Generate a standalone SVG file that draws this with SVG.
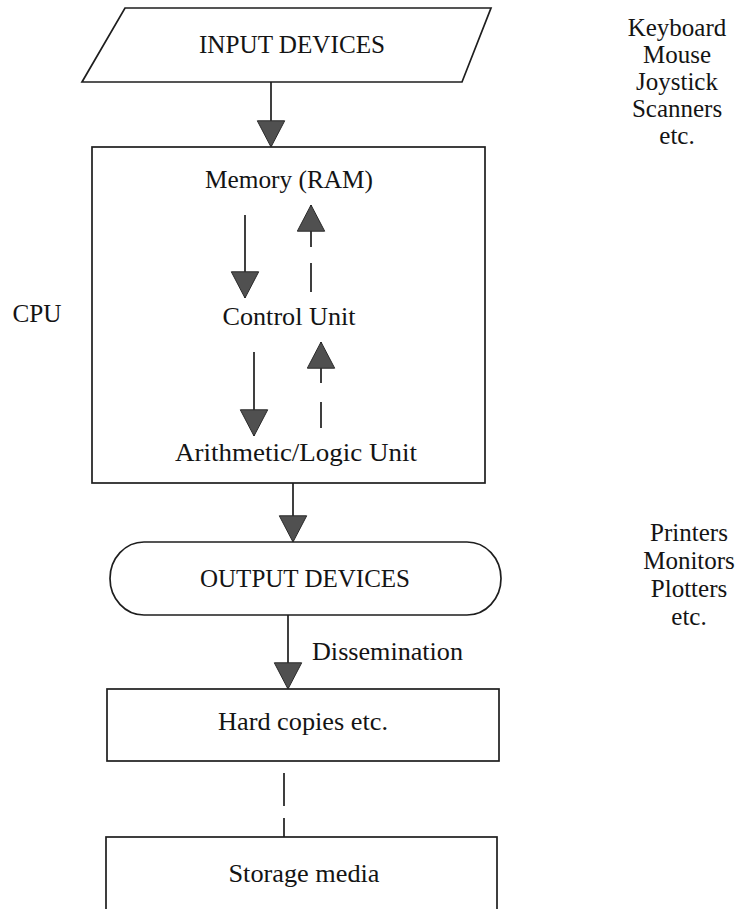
<svg xmlns="http://www.w3.org/2000/svg" width="739" height="909" viewBox="0 0 739 909">
  <defs>
    <style>
      .shape { fill: #ffffff; stroke: #1e1e1e; stroke-width: 1.7; }
      .frame { fill: none; stroke: #1e1e1e; stroke-width: 1.7; }
      .wire { fill: none; stroke: #1e1e1e; stroke-width: 1.7; }
      .lbl { font-family: "Liberation Serif", "Times New Roman", serif; font-size: 25px; fill: #141414; }
      .mid { text-anchor: middle; }
    </style>
    <!-- filled triangular arrowhead, tip at the line end -->
    <marker id="head" markerUnits="userSpaceOnUse" markerWidth="30" markerHeight="31" refX="27" refY="14.5" orient="auto">
      <path d="M0.8,0.8 L27,14.5 L0.8,28.2 Z" fill="#505050" stroke="#2a2a2a" stroke-width="1"/>
    </marker>
  </defs>

  <rect width="739" height="909" fill="#ffffff"/>

  <g id="input-devices">
    <polygon class="shape" points="125,8 491,8 462,82 82,82"/>
    <text class="lbl mid" x="292" y="53" textLength="186" lengthAdjust="spacingAndGlyphs">INPUT DEVICES</text>
  </g>

  <g id="input-examples">
    <text class="lbl mid" x="677" y="36">Keyboard</text>
    <text class="lbl mid" x="677" y="63">Mouse</text>
    <text class="lbl mid" x="677" y="90">Joystick</text>
    <text class="lbl mid" x="677" y="117">Scanners</text>
    <text class="lbl mid" x="677" y="144">etc.</text>
  </g>

  <g id="cpu">
    <rect class="frame" x="92" y="147" width="393" height="336"/>
    <text class="lbl mid" x="37" y="322" textLength="49" lengthAdjust="spacingAndGlyphs">CPU</text>
    <g id="memory">
      <text class="lbl mid" x="289" y="188" textLength="168" lengthAdjust="spacingAndGlyphs">Memory (RAM)</text>
    </g>
    <g id="control-unit">
      <text class="lbl mid" x="289" y="325" textLength="133" lengthAdjust="spacingAndGlyphs">Control Unit</text>
    </g>
    <g id="alu">
      <text class="lbl mid" x="296" y="461" textLength="242" lengthAdjust="spacingAndGlyphs">Arithmetic/Logic Unit</text>
    </g>
  </g>

  <g id="output-devices">
    <rect class="shape" x="110" y="542" width="391" height="73" rx="34" ry="36.5"/>
    <text class="lbl mid" x="305" y="587" textLength="210" lengthAdjust="spacingAndGlyphs">OUTPUT DEVICES</text>
  </g>

  <g id="output-examples">
    <text class="lbl mid" x="689" y="541">Printers</text>
    <text class="lbl mid" x="689" y="569">Monitors</text>
    <text class="lbl mid" x="689" y="597">Plotters</text>
    <text class="lbl mid" x="689" y="625">etc.</text>
  </g>

  <g id="hard-copies">
    <rect class="shape" x="107" y="689" width="392" height="72"/>
    <text class="lbl mid" x="303" y="730" textLength="170" lengthAdjust="spacingAndGlyphs">Hard copies etc.</text>
  </g>

  <g id="storage-media">
    <rect class="shape" x="106" y="837" width="391" height="90"/>
    <text class="lbl mid" x="304" y="882" textLength="151" lengthAdjust="spacingAndGlyphs">Storage media</text>
  </g>

  <!-- connectors, drawn last so they sit on top of the boxes -->
  <g id="connectors">
    <line class="wire" x1="271" y1="82" x2="271" y2="147" marker-end="url(#head)"/>
    <line class="wire" x1="245" y1="215" x2="245" y2="298" marker-end="url(#head)"/>
    <path class="wire" d="M311,292 L311,205" stroke-dasharray="29 16 80" marker-end="url(#head)"/>
    <line class="wire" x1="254" y1="352" x2="254" y2="436" marker-end="url(#head)"/>
    <path class="wire" d="M321,428 L321,342" stroke-dasharray="26 19 80" marker-end="url(#head)"/>
    <line class="wire" x1="293" y1="483" x2="293" y2="542" marker-end="url(#head)"/>
    <line class="wire" x1="288" y1="615" x2="288" y2="689" marker-end="url(#head)"/>
    <path class="wire" d="M284,773 L284,837" stroke-width="2" stroke-dasharray="33 12 40"/>
    <text class="lbl" x="312" y="660" textLength="151" lengthAdjust="spacingAndGlyphs">Dissemination</text>
  </g>
</svg>
